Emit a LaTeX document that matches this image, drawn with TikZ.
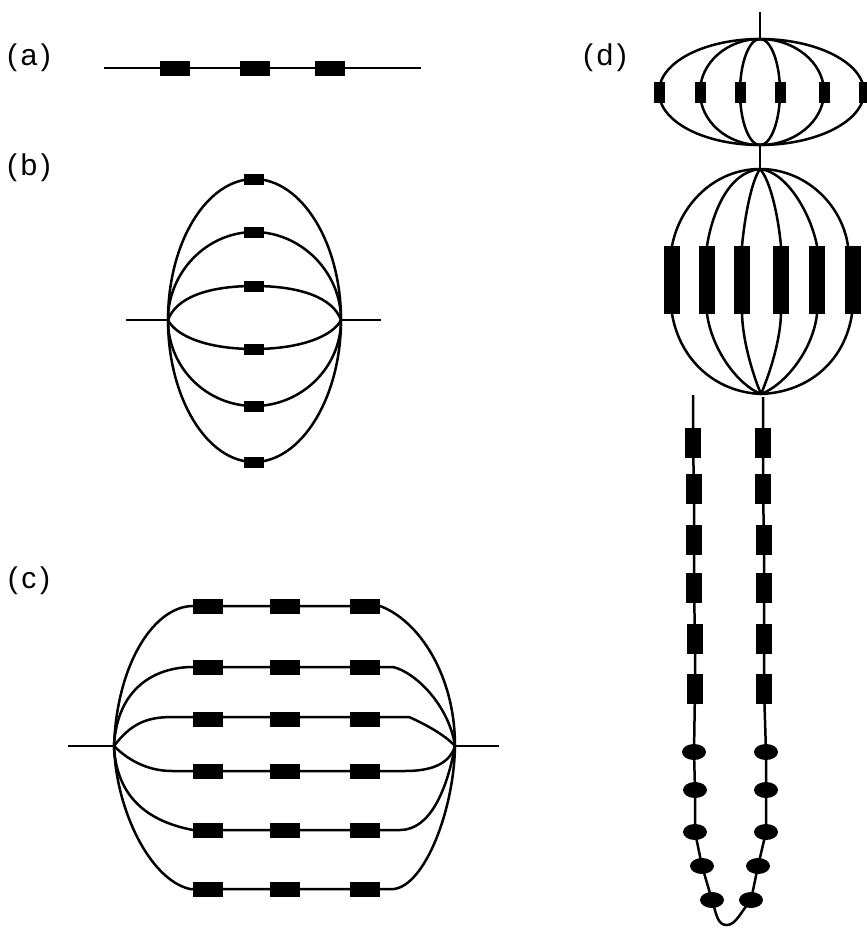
\documentclass[tikz,border=0pt]{standalone}
\usepackage{fontspec}
\setmainfont{Liberation Sans}[LetterSpace=12]
\usetikzlibrary{shapes.geometric}
\tikzset{
  wire/.style={line width=2.5pt,black},
  blk/.style={fill=black,draw=none,inner sep=0pt,outer sep=0pt},
  ra/.style={blk,minimum width=30pt,minimum height=15pt},
  rb/.style={blk,minimum width=20pt,minimum height=11pt},
  rd/.style={blk,minimum width=11pt,minimum height=21pt},
  re/.style={blk,minimum width=16pt,minimum height=68pt},
  rf/.style={blk,minimum width=16pt,minimum height=30pt},
  el/.style={blk,ellipse,minimum width=24pt,minimum height=16pt},
  lab/.style={font=\fontsize{30}{32}\selectfont,inner sep=0pt,anchor=center}
}
\begin{document}
\begin{tikzpicture}[x=1pt,y=1pt]
\useasboundingbox (0,0) rectangle (867,-929);
\fill[white] (0,0) rectangle (867,-929);
% labels
\node[lab] (la) at (29,-58) {(a)};
\node[lab] (lb) at (29,-168) {(b)};
\node[lab] (lc) at (29,-581) {(c)};
\node[lab] (ld) at (605,-58) {(d)};
% (a)
\coordinate (a0) at (104,-68);
\coordinate (a4) at (421,-68);
\node[ra] (a1) at (175,-68) {};
\node[ra] (a2) at (255,-68) {};
\node[ra] (a3) at (330,-68) {};
\draw[wire] (a0) -- (a4);
% (b)
\coordinate (bL) at (168,-320);
\coordinate (bR) at (341,-320);
\coordinate (bl) at (126,-320);
\coordinate (br) at (381,-320);
\node[rb] (b1) at (254,-179) {};
\node[rb] (b2) at (254,-232) {};
\node[rb] (b3) at (254,-286) {};
\node[rb] (b4) at (254,-349) {};
\node[rb] (b5) at (254,-406) {};
\node[rb] (b6) at (254,-462) {};
\draw[wire] (bl) -- (bL) (bR) -- (br);
\draw[wire] (bL) .. controls +(0,78) and +(-47,0) .. (b1.center) .. controls +(47,0) and +(0,78) .. (bR);
\draw[wire] (bL) .. controls +(0,48) and +(-47,0) .. (b2.center) .. controls +(47,0) and +(0,48) .. (bR);
\draw[wire] (bL) .. controls +(8,22) and +(-47,0) .. (b3.center) .. controls +(47,0) and +(-8,22) .. (bR);
\draw[wire] (bL) .. controls +(8,-16) and +(-47,0) .. (b4.center) .. controls +(47,0) and +(-8,-16) .. (bR);
\draw[wire] (bL) .. controls +(0,-48) and +(-47,0) .. (b5.center) .. controls +(47,0) and +(0,-48) .. (bR);
\draw[wire] (bL) .. controls +(0,-78) and +(-47,0) .. (b6.center) .. controls +(47,0) and +(0,-78) .. (bR);
% (c)
\coordinate (cL) at (114,-746);
\coordinate (cR) at (455,-746);
\coordinate (cl) at (68,-746);
\coordinate (cr) at (499,-746);
\foreach \n/\y in {1/606,2/667,3/719,4/771,5/830,6/889}{
  \node[ra] (c\n a) at (208,-\y) {};
  \node[ra] (c\n b) at (285,-\y) {};
  \node[ra] (c\n c) at (365,-\y) {};
}
\draw[wire] (cl) -- (cL) (cR) -- (cr);
\coordinate (k2) at (393,-667);
\coordinate (k3) at (409,-717);
\coordinate (k4) at (405,-771);
\coordinate (k5) at (400,-830);
\coordinate (k6) at (394,-889);
\draw[wire] (cL) .. controls +(3,84) and +(-38,0) .. (c1a.west) -- (c1c.east) .. controls +(38,-14) and +(0,72) .. (cR);
\draw[wire] (cL) .. controls +(3,58) and +(-38,0) .. (c2a.west) -- (k2) .. controls +(22,-5) and +(-6,41) .. (cR);
\draw[wire] (cL) .. controls +(16,21) and +(-27,0) .. (172,-717) -- (k3) .. controls +(16,-7) and +(-10,11) .. (cR);
\draw[wire] (cL) .. controls +(16,-16) and +(-22,0) .. (172,-771) -- (k4) .. controls +(30,0) and +(-5,-16) .. (cR);
\draw[wire] (cL) .. controls +(2,-44) and +(-53,10) .. (c5a.west) -- (k5) .. controls +(30,0) and +(-8,-44) .. (cR);
\draw[wire] (cL) .. controls +(2,-64) and +(-40,9) .. (190,-889) -- (k6) .. controls +(31,4) and +(-1,-64) .. (cR);
% (d) upper
\coordinate (d0) at (760,-12);
\coordinate (dT) at (760,-39);
\coordinate (dB) at (760,-145);
\coordinate (eT) at (760,-169);
\coordinate (eB) at (761,-394);
\draw[wire] (d0) -- (dT);
\draw[wire] (dB) -- (eT);
\foreach \n/\x in {1/659,2/700,3/740,4/780,5/824,6/864}{
  \node[rd] (d\n) at (\x,-92) {};
}
\draw[wire] (dT) .. controls +(-55,0) and +(0,30) .. (d1.center) .. controls +(0,-30) and +(-55,0) .. (dB);
\draw[wire] (dT) .. controls +(-33,0) and +(0,29) .. (d2.center) .. controls +(0,-29) and +(-33,0) .. (dB);
\draw[wire] (dT) .. controls +(-11,0) and +(0,29) .. (d3.center) .. controls +(0,-29) and +(-11,0) .. (dB);
\draw[wire] (dT) .. controls +(11,0) and +(0,29) .. (d4.center) .. controls +(0,-29) and +(11,0) .. (dB);
\draw[wire] (dT) .. controls +(35,0) and +(0,29) .. (d5.center) .. controls +(0,-29) and +(35,0) .. (dB);
\draw[wire] (dT) .. controls +(57,0) and +(0,29) .. (d6.center) .. controls +(0,-29) and +(57,0) .. (dB);
% (d) middle
\foreach \n/\x in {1/672,2/707,3/742,4/781,5/817,6/853}{
  \node[re] (e\n) at (\x,-280) {};
}
\draw[wire] (eT) .. controls +(-45,0) and +(8,42) .. (e1.north) (e1.south) .. controls +(8,-46) and +(-46,2) .. (eB);
\draw[wire] (eT) .. controls +(-32,-3) and +(5,32) .. (e2.north) (e2.south) .. controls +(5,-36) and +(-23,9) .. (eB);
\draw[wire] (eT) .. controls +(-8,-11) and +(3,32) .. (e3.north) (e3.south) .. controls +(1,-31) and +(-6,14) .. (eB);
\draw[wire] (eT) .. controls +(10,-11) and +(-3,32) .. (e4.north) (e4.south) .. controls +(-1,-31) and +(6,14) .. (eB);
\draw[wire] (eT) .. controls +(27,-3) and +(-6,32) .. (e5.north) (e5.south) .. controls +(-4,-36) and +(24,9) .. (eB);
\draw[wire] (eT) .. controls +(45,0) and +(-6,42) .. ([xshift=-5pt]e6.north) ([xshift=-1pt]e6.south) .. controls +(-7,-46) and +(49,2) .. (eB);
% (d) chains
\coordinate (fl) at (693,-395);
\coordinate (fr) at (763,-397);
\coordinate (u) at (727,-925);
\foreach \n/\xl/\xr/\y in {1/693/763/443,2/694/763/489,3/694/764/540,4/694/764/588,5/695/764/639,6/695/764/689}{
  \node[rf] (l\n) at (\xl,-\y) {};
  \node[rf] (r\n) at (\xr,-\y) {};
}
\node[el] (lA) at (694,-752) {};
\node[el] (lB) at (695,-790) {};
\node[el] (lC) at (695,-832) {};
\node[el] (lD) at (702,-866) {};
\node[el] (lE) at (712,-900) {};
\node[el] (rA) at (766,-752) {};
\node[el] (rB) at (766,-790) {};
\node[el] (rC) at (766,-832) {};
\node[el] (rD) at (758,-866) {};
\node[el] (rE) at (751,-900) {};
\draw[wire] (fl) -- (l1.center) -- (l2.center) -- (l3.center) -- (l4.center) -- (l5.center) -- (l6.center) -- (lA.center) -- (lB.center) -- (lC.center) -- (lD.center) -- (lE.center);
\draw[wire] (fr) -- (r1.center) -- (r2.center) -- (r3.center) -- (r4.center) -- (r5.center) -- (r6.center) -- (rA.center) -- (rB.center) -- (rC.center) -- (rD.center) -- (rE.center);
\draw[wire] (lE.center) .. controls +(5,-17) and +(-9,0) .. (u) .. controls +(9,0) and +(-9,-10) .. (rE.center);
\end{tikzpicture}
\end{document}
